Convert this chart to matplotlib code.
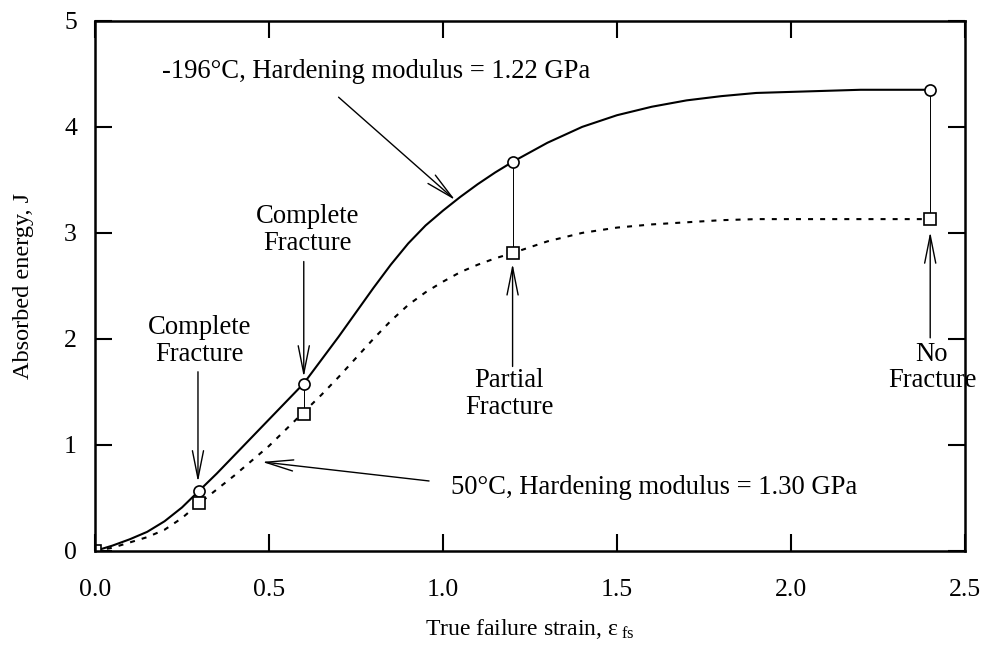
import matplotlib
matplotlib.use('Agg')
import matplotlib.pyplot as plt

plt.rcParams['font.family'] = ['Liberation Serif', 'DejaVu Serif']
plt.rcParams['mathtext.fontset'] = 'custom'
plt.rcParams['mathtext.rm'] = 'Liberation Serif'
plt.rcParams['mathtext.it'] = 'Liberation Serif:italic'

# measured points
strain = [0.0, 0.3, 0.6, 1.2, 2.4]
energy_cold = [0.0, 0.57, 1.57, 3.67, 4.35]   # -196 C, circles
energy_warm = [0.0, 0.45, 1.29, 2.81, 3.13]   # 50 C, squares

# fitted curves
curve_cold_x = [0.0, 0.05, 0.1, 0.15, 0.2, 0.25, 0.3, 0.35, 0.4, 0.45, 0.5, 0.55, 0.6,
                0.65, 0.7, 0.75, 0.8, 0.85, 0.9, 0.95, 1.0, 1.05, 1.1, 1.15, 1.2, 1.3,
                1.4, 1.5, 1.6, 1.7, 1.8, 1.9, 2.0, 2.1, 2.2, 2.3, 2.4]
curve_cold_y = [0.0, 0.05, 0.11, 0.18, 0.28, 0.41, 0.57, 0.73, 0.90, 1.07, 1.24, 1.41, 1.58,
                1.80, 2.02, 2.25, 2.48, 2.70, 2.90, 3.07, 3.21, 3.34, 3.46, 3.57, 3.67, 3.85,
                4.00, 4.11, 4.19, 4.25, 4.29, 4.32, 4.33, 4.34, 4.35, 4.35, 4.35]
curve_warm_x = [0.0, 0.05, 0.1, 0.15, 0.2, 0.25, 0.3, 0.35, 0.4, 0.45, 0.5, 0.55, 0.6,
                0.65, 0.7, 0.75, 0.8, 0.85, 0.9, 0.95, 1.0, 1.05, 1.1, 1.15, 1.2, 1.3,
                1.4, 1.5, 1.6, 1.7, 1.8, 1.9, 2.0, 2.2, 2.4]
curve_warm_y = [0.0, 0.03, 0.08, 0.13, 0.20, 0.31, 0.45, 0.58, 0.71, 0.85, 0.99, 1.15, 1.31,
                1.47, 1.64, 1.82, 2.00, 2.17, 2.32, 2.44, 2.54, 2.63, 2.70, 2.76, 2.81, 2.92,
                3.00, 3.05, 3.08, 3.10, 3.12, 3.13, 3.13, 3.13, 3.13]

xticks = [0.0, 0.5, 1.0, 1.5, 2.0, 2.5]
xticklabels = ['0.0', '0.5', '1.0', '1.5', '2.0', '2.5']
yticks = [0, 1, 2, 3, 4, 5]

fig = plt.figure(figsize=(9.83, 6.52), dpi=100)
ax = fig.add_axes([0.0966, 0.155, 0.8851, 0.813])

ax.plot(curve_cold_x, curve_cold_y, color='black', lw=1.5)
ax.plot(curve_warm_x, curve_warm_y, color='black', lw=1.5, linestyle=(0, (2.4, 3.4)))

# thin connectors between the two points at the same strain
for i in [2, 3, 4]:
    ax.plot([strain[i], strain[i]], [energy_cold[i], energy_warm[i]], color='black', lw=0.7)

ax.plot(strain, energy_cold, 'o', mfc='white', mec='black', ms=8, mew=1.2)
ax.plot(strain, energy_warm, 's', mfc='white', mec='black', ms=8.5, mew=1.2)

ax.set_xlim(0, 2.5)
ax.set_ylim(0, 5)
ax.set_xticks(xticks)
ax.set_xticklabels(xticklabels)
ax.set_yticks(yticks)
ax.tick_params(direction='in', length=12, width=1.5, top=True, right=True,
               labelsize=18.5)
ax.tick_params(axis='x', pad=20)
ax.tick_params(axis='y', pad=13)
for s in ax.spines.values():
    s.set_linewidth(1.8)

ax.set_xlabel(r'True failure strain, ε$_{\mathrm{\ fs}}$', fontsize=17)
ax.xaxis.set_label_coords(0.5, -0.125)
ax.set_ylabel('Absorbed energy, J', fontsize=17.5)
ax.yaxis.set_label_coords(-0.07, 0.5)

arrow = dict(arrowstyle='->,head_length=2.0,head_width=0.4', lw=1.0, color='black',
             shrinkA=0, shrinkB=0)
fs = 19.2

ax.text(0.193, 4.52, '-196°C, Hardening modulus = 1.22 GPa', fontsize=fs, ha='left', va='center')
ax.annotate('', xy=(1.035, 3.31), xytext=(0.70, 4.28), arrowprops=arrow)

ax.text(2.19, 0.60, '50°C, Hardening modulus = 1.30 GPa', fontsize=fs, ha='right', va='center')
ax.annotate('', xy=(0.48, 0.84), xytext=(0.96, 0.66), arrowprops=arrow)

ax.text(0.30, 1.98, 'Complete\nFracture', fontsize=fs, ha='center', va='center', linespacing=1.1)
ax.annotate('', xy=(0.296, 0.65), xytext=(0.296, 1.69), arrowprops=arrow)

ax.text(0.61, 3.03, 'Complete\nFracture', fontsize=fs, ha='center', va='center', linespacing=1.1)
ax.annotate('', xy=(0.60, 1.64), xytext=(0.60, 2.73), arrowprops=arrow)

ax.text(1.19, 1.48, 'Partial\nFracture', fontsize=fs, ha='center', va='center', linespacing=1.1)
ax.annotate('', xy=(1.2, 2.71), xytext=(1.2, 1.74), arrowprops=arrow)

ax.text(2.405, 1.73, 'No\nFracture', fontsize=fs, ha='center', va='center', linespacing=1.1)
ax.annotate('', xy=(2.4, 3.01), xytext=(2.4, 2.01), arrowprops=arrow)

fig.savefig('out.png', dpi=100)
